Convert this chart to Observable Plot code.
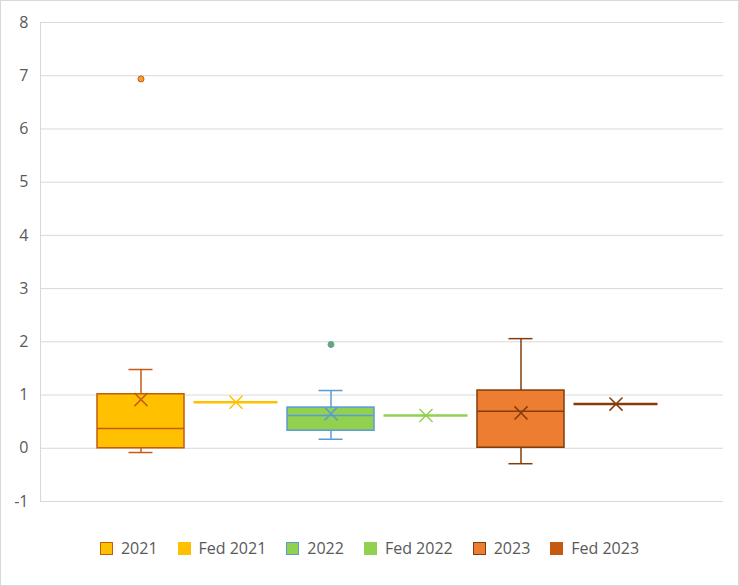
<!DOCTYPE html>
<html>
<head>
<meta charset="utf-8">
<script src="https://cdn.jsdelivr.net/npm/d3@7"></script>
<script src="https://cdn.jsdelivr.net/npm/@observablehq/plot@0.6"></script>
<style>
  body { margin: 0; background: #fff; }
  #chart { width: 739px; height: 586px; box-sizing: border-box; border: 1px solid #d9d9d9; background: #fff; position: relative; }
  #legend { display: flex; justify-content: center; align-items: center; font-family: "Open Sans", sans-serif; font-size: 16px; color: #595959; position: absolute; left: 0; right: 0; top: 534px; height: 26px; }
  .item { display: flex; align-items: center; margin: 0 10px; }
  .sw { width: 11px; height: 11px; margin-right: 8px; border: 1px solid; }
</style>
</head>
<body>
<div id="chart"></div>
<script>
// Series (one category, six series)
const series = ["2021", "Fed 2021", "2022", "Fed 2022", "2023", "Fed 2023"];
const yTicks = [-1, 0, 1, 2, 3, 4, 5, 6, 7, 8];

// Box-and-whisker series
const boxNames  = ["2021", "2022", "2023"];
const boxQ1     = [0.0, 0.33, 0.01];
const boxMedian = [0.37, 0.615, 0.695];
const boxQ3     = [1.015, 0.765, 1.085];
const boxLow    = [-0.08, 0.17, -0.29];
const boxHigh   = [1.48, 1.085, 2.06];
const boxMean   = [0.915, 0.65, 0.665];
const boxOutlier = [6.94, 1.95, null];
const boxFill   = ["#FFC000", "#92D050", "#ED7D31"];
const boxStroke = ["#C55A11", "#5B9BD5", "#843C0C"];
const outFill   = ["#F5A031", "#70AD47", null];

// Fed series (single value each)
const fedNames  = ["Fed 2021", "Fed 2022", "Fed 2023"];
const fedValue  = [0.865, 0.615, 0.83];
const fedColor  = ["#FFC000", "#92D050", "#843C0C"];

// Legend
const legendFill   = ["#FFC000", "#FFC000", "#92D050", "#92D050", "#ED7D31", "#C55A11"];
const legendBorder = ["#C55A11", "#FFC000", "#5B9BD5", "#92D050", "#843C0C", "#C55A11"];

const boxes = boxNames.map((s, i) => ({
  s, q1: boxQ1[i], med: boxMedian[i], q3: boxQ3[i], lo: boxLow[i], hi: boxHigh[i],
  mean: boxMean[i], out: boxOutlier[i], fill: boxFill[i], stroke: boxStroke[i], ofill: outFill[i]
}));
const outliers = boxes.filter(d => d.out != null);
const feds = fedNames.map((s, i) => ({ s, v: fedValue[i], c: fedColor[i] }));
const fmt = d => d < 0 ? "-" + Math.abs(d) : String(d);

const plot = Plot.plot({
  width: 737,
  height: 522,
  marginLeft: 39,
  marginRight: 15,
  marginTop: 21,
  marginBottom: 22,
  style: { fontFamily: "Open Sans, sans-serif", fontSize: "16px", color: "#595959", background: "#fff" },
  x: { type: "band", domain: series, range: [90.1, 664.9], paddingInner: 0.08, paddingOuter: 0.04, axis: null },
  y: { domain: [-1, 8], axis: null },
  marks: [
    Plot.ruleY(yTicks, { stroke: "#d9d9d9", strokeWidth: 1 }),
    Plot.frame({ anchor: "left", stroke: "#d9d9d9" }),
    // whiskers
    Plot.ruleX(boxes, { x: "s", y1: "q3", y2: "hi", stroke: "stroke", strokeWidth: 1.5 }),
    Plot.ruleX(boxes, { x: "s", y1: "lo", y2: "q1", stroke: "stroke", strokeWidth: 1.5 }),
    Plot.tickY(boxes, { x: "s", y: "hi", stroke: "stroke", strokeWidth: 1.5, insetLeft: 31.5, insetRight: 31.5 }),
    Plot.tickY(boxes, { x: "s", y: "lo", stroke: "stroke", strokeWidth: 1.5, insetLeft: 31.5, insetRight: 31.5 }),
    // box
    Plot.barY(boxes, { x: "s", y1: "q1", y2: "q3", fill: "fill", stroke: "stroke", strokeWidth: 1.5 }),
    Plot.tickY(boxes, { x: "s", y: "med", stroke: "stroke", strokeWidth: 1.5 }),
    Plot.dot(boxes, { x: "s", y: "mean", symbol: "times", r: 6, stroke: "stroke", strokeWidth: 1.5 }),
    Plot.dot(outliers, { x: "s", y: "out", r: 3, fill: "ofill", stroke: "stroke", strokeWidth: 1 }),
    // fed
    Plot.tickY(feds, { x: "s", y: "v", stroke: "c", strokeWidth: 2.5, insetLeft: 1.5, insetRight: 1.5 }),
    Plot.dot(feds, { x: "s", y: "v", symbol: "times", r: 6, stroke: "c", strokeWidth: 1.5 }),
    Plot.axisY({ ticks: yTicks, tickSize: 0, tickPadding: 12, fill: "#595959", fontSize: 16, tickFormat: fmt })
  ]
});

const chart = document.getElementById("chart");
chart.appendChild(plot);
const legend = document.createElement("div");
legend.id = "legend";
series.forEach((s, i) => {
  const it = document.createElement("div");
  it.className = "item";
  const sw = document.createElement("span");
  sw.className = "sw";
  sw.style.background = legendFill[i];
  sw.style.borderColor = legendBorder[i];
  const t = document.createElement("span");
  t.textContent = s;
  it.appendChild(sw); it.appendChild(t);
  legend.appendChild(it);
});
chart.appendChild(legend);
</script>
</body>
</html>
